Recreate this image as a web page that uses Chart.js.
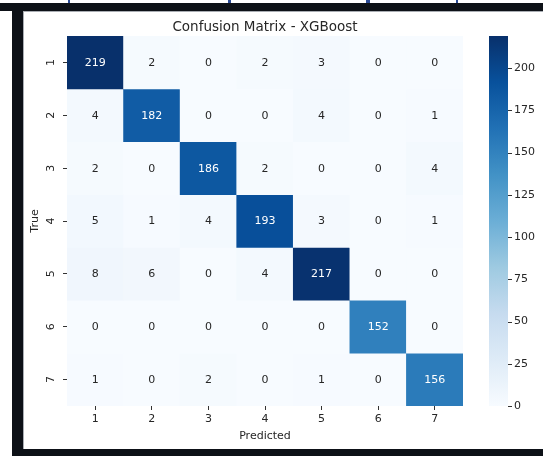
<!DOCTYPE html>
<html lang="en">
<head>
<meta charset="UTF-8">
<title>Confusion Matrix - XGBoost</title>
<script src="https://cdn.jsdelivr.net/npm/chart.js"></script>
<style>
    html, body {
        margin: 0;
        padding: 0;
        background: #fff;
    }
    body {
        width: 543px;
        height: 456px;
        position: relative;
        overflow: hidden;
        font-family: "DejaVu Sans", sans-serif;
    }
    .frame {
        position: absolute;
        background: #0d1117;
    }
    .frag {
        position: absolute;
        top: 0;
        height: 3px;
        width: 2px;
        background: #2b4a94;
    }
    #panel {
        position: absolute;
        left: 23px;
        top: 11px;
        width: 520px;
        height: 438px;
        background: #fff;
    }
    #panel .edge {
        position: absolute;
        background: #a9adb3;
    }
</style>
</head>
<body>
    <!-- bits of the notebook around the figure -->
    <div class="frag" style="left:68px"></div>
    <div class="frag" style="left:228px; width:3px"></div>
    <div class="frag" style="left:366px; width:4px"></div>
    <div class="frag" style="left:456px"></div>
    <div class="frame" style="left:0; top:3px; width:543px; height:8px"></div>
    <div class="frame" style="left:12px; top:11px; width:11px; height:445px"></div>
    <div class="frame" style="left:23px; top:449px; width:520px; height:7px"></div>

    <div id="panel">
        <div class="edge" style="left:0; top:0; width:1px; height:438px"></div>
        <div class="edge" style="left:0; top:0; width:520px; height:1px"></div>
        <canvas id="cm" width="520" height="438"></canvas>
    </div>

<script>
    // categories
    const predictedLabels = ['1', '2', '3', '4', '5', '6', '7'];
    const trueLabels = ['1', '2', '3', '4', '5', '6', '7'];

    // one row per true class, columns = predicted class
    const true1 = [219, 2, 0, 2, 3, 0, 0];
    const true2 = [4, 182, 0, 0, 4, 0, 1];
    const true3 = [2, 0, 186, 2, 0, 0, 4];
    const true4 = [5, 1, 4, 193, 3, 0, 1];
    const true5 = [8, 6, 0, 4, 217, 0, 0];
    const true6 = [0, 0, 0, 0, 0, 152, 0];
    const true7 = [1, 0, 2, 0, 1, 0, 156];
    const trueRows = [true1, true2, true3, true4, true5, true6, true7];

    // colour bar
    const colorbarTicks = [0, 25, 50, 75, 100, 125, 150, 175, 200];
    const vmin = 0;
    const vmax = 219;

    // matplotlib "Blues"
    const bluesStops = ['#f7fbff', '#deebf7', '#c6dbef', '#9ecae1', '#6baed6',
                        '#4292c6', '#2171b5', '#08519c', '#08306b'];

    function hexToRgb(h) {
        return [parseInt(h.slice(1, 3), 16), parseInt(h.slice(3, 5), 16), parseInt(h.slice(5, 7), 16)];
    }

    function blues(v) {
        let t = (v - vmin) / (vmax - vmin);
        t = Math.max(0, Math.min(1, t));
        const p = t * (bluesStops.length - 1);
        const i = Math.min(bluesStops.length - 2, Math.floor(p));
        const f = p - i;
        const a = hexToRgb(bluesStops[i]);
        const b = hexToRgb(bluesStops[i + 1]);
        return a.map((c, k) => Math.round(c + (b[k] - c) * f));
    }

    function rgbStr(c) {
        return 'rgb(' + c.join(',') + ')';
    }

    // same rule seaborn uses to pick the annotation colour
    function textColor(rgb) {
        const lin = rgb.map(c => {
            c = c / 255;
            return c <= 0.03928 ? c / 12.92 : Math.pow((c + 0.055) / 1.055, 2.4);
        });
        const lum = 0.2126 * lin[0] + 0.7152 * lin[1] + 0.0722 * lin[2];
        return lum > 0.408 ? '#262626' : '#ffffff';
    }

    const FONT = 'DejaVu Sans';

    // cell numbers, colour bar strip and title
    const heatmapExtras = {
        id: 'heatmapExtras',
        afterDatasetsDraw(chart) {
            const ctx = chart.ctx;
            ctx.save();
            ctx.font = '11px "' + FONT + '"';
            ctx.textAlign = 'center';
            ctx.textBaseline = 'middle';
            chart.data.datasets.forEach((ds, r) => {
                const meta = chart.getDatasetMeta(r);
                meta.data.forEach((bar, c) => {
                    const v = trueRows[r][c];
                    ctx.fillStyle = textColor(blues(v));
                    ctx.fillText(String(v), bar.x, (bar.y + bar.base) / 2 + 0.5);
                });
            });
            ctx.restore();
        },
        afterDraw(chart) {
            const ctx = chart.ctx;
            const cb = chart.scales.cb;
            const x0 = cb.left + 26;
            const w = 19;
            const yTop = cb.getPixelForValue(vmax);
            const yBot = cb.getPixelForValue(vmin);

            ctx.save();
            const grad = ctx.createLinearGradient(0, yBot, 0, yTop);
            bluesStops.forEach((col, i) => grad.addColorStop(i / (bluesStops.length - 1), col));
            ctx.fillStyle = grad;
            ctx.fillRect(x0, yTop, w, yBot - yTop);

            ctx.strokeStyle = '#333';
            ctx.lineWidth = 1;
            colorbarTicks.forEach(v => {
                const y = Math.round(cb.getPixelForValue(v)) + 0.5;
                ctx.beginPath();
                ctx.moveTo(x0 + w, y);
                ctx.lineTo(x0 + w + 4, y);
                ctx.stroke();
            });

            const area = chart.chartArea;
            ctx.fillStyle = '#262626';
            ctx.font = '13.5px "' + FONT + '"';
            ctx.textAlign = 'center';
            ctx.textBaseline = 'alphabetic';
            ctx.fillText('Confusion Matrix - XGBoost', (area.left + area.right) / 2, 20);
            ctx.restore();
        }
    };

    const datasets = trueRows.map((row, r) => ({
        label: 'True ' + trueLabels[r],
        data: row.map(() => [r + 0.5, r + 1.5]),
        backgroundColor: row.map(v => rgbStr(blues(v))),
        borderWidth: 0,
        grouped: false,
        barPercentage: 1,
        categoryPercentage: 1
    }));

    const tickFont = { family: FONT, size: 11 };

    // fixed box sizes so the plot area lands where the figure has it
    function fixBox(size) {
        return function (s) {
            if (s.isHorizontal()) {
                s.height = size;
            } else {
                s.width = size;
            }
            s.paddingTop = 0;
            s.paddingBottom = 0;
            s.paddingLeft = 0;
            s.paddingRight = 0;
        };
    }

    new Chart(document.getElementById('cm'), {
        type: 'bar',
        data: {
            labels: predictedLabels,
            datasets: datasets
        },
        options: {
            responsive: false,
            animation: false,
            events: [],
            layout: {
                padding: { top: 25, left: 0, right: 0, bottom: 0 }
            },
            plugins: {
                legend: { display: false },
                title: { display: false },
                tooltip: { enabled: false }
            },
            scales: {
                x: {
                    type: 'category',
                    offset: true,
                    grid: { offset: false, drawOnChartArea: false, tickLength: 4, color: '#333' },
                    border: { display: false },
                    ticks: { color: '#262626', font: tickFont, padding: 3, maxRotation: 0 },
                    title: {
                        display: true,
                        text: 'Predicted',
                        color: '#262626',
                        font: tickFont,
                        padding: { top: 0, bottom: 6 }
                    },
                    afterFit: fixBox(43)
                },
                y: {
                    type: 'linear',
                    min: 0.5,
                    max: 7.5,
                    reverse: true,
                    afterBuildTicks(s) {
                        s.ticks = trueLabels.map((_, i) => ({ value: i + 1 }));
                    },
                    grid: { drawOnChartArea: false, tickLength: 4, color: '#333' },
                    border: { display: false },
                    ticks: {
                        color: '#262626',
                        font: tickFont,
                        padding: 8,
                        minRotation: 90,
                        maxRotation: 90,
                        crossAlign: 'center',
                        autoSkip: false,
                        callback: v => trueLabels[v - 1]
                    },
                    title: {
                        display: true,
                        text: 'True',
                        color: '#262626',
                        font: tickFont,
                        padding: { top: 6, bottom: 0 }
                    },
                    afterFit: fixBox(44)
                },
                cb: {
                    type: 'linear',
                    axis: 'y',
                    position: 'right',
                    min: vmin,
                    max: vmax,
                    afterBuildTicks(s) {
                        s.ticks = colorbarTicks.map(v => ({ value: v }));
                    },
                    grid: { display: false, drawTicks: false },
                    border: { display: false },
                    ticks: {
                        color: '#262626',
                        font: tickFont,
                        padding: 51,
                        autoSkip: false
                    },
                    afterFit: fixBox(80)
                }
            }
        },
        plugins: [heatmapExtras]
    });
</script>
</body>
</html>
